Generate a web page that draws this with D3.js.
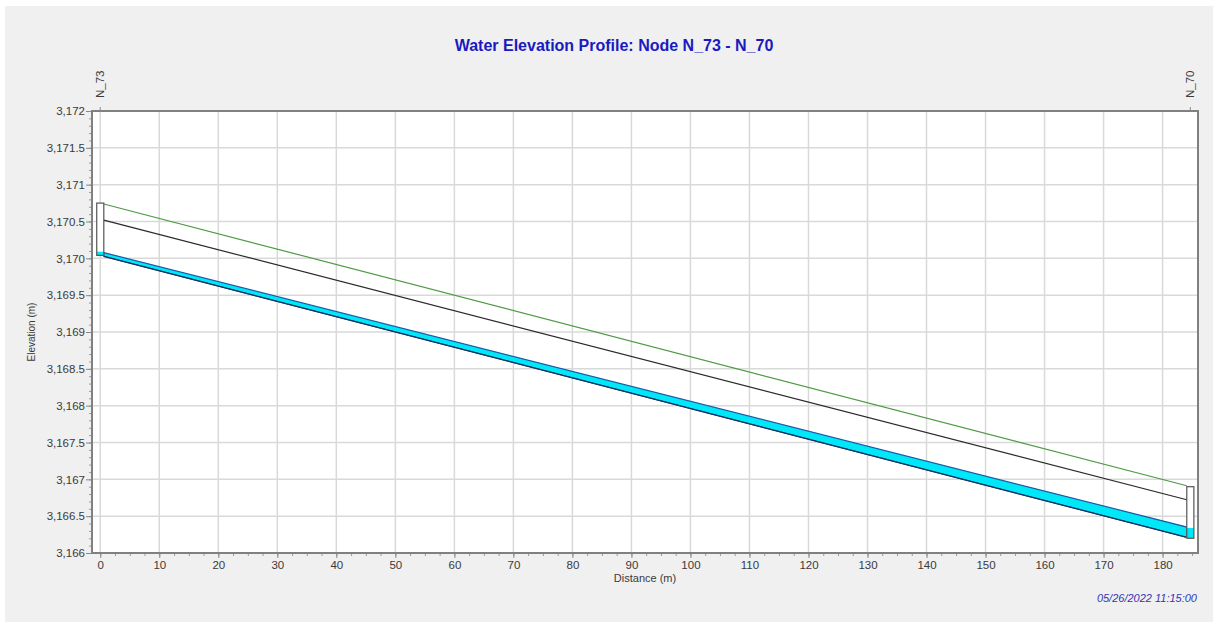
<!DOCTYPE html>
<html lang="en">
<head>
  <meta charset="UTF-8">
  <title>Water Elevation Profile</title>
  <script src="https://d3js.org/d3.v7.min.js"></script>
  <style>
    body { margin: 0; background: #fff; }
    svg text { font-family: "Liberation Sans", Arial, sans-serif; }
  </style>
</head>
<body>
<div id="chart"></div>
<script>
  // node data
  const nodeNames = ["N_73", "N_70"];
  const nodeDist = [0, 184.7];          // m
  const rimElev = [3170.75, 3166.90];   // ground / max depth
  const crownElev = [3170.53, 3166.71]; // top of conduit
  const waterElev = [3170.09, 3166.34]; // water surface
  const invertElev = [3170.04, 3166.20];// conduit invert

  const xTickVals = d3.range(0, 181, 10);
  const yTickVals = d3.range(3166, 3172.001, 0.5);

  const width = 1219, height = 628;
  const margin = {left: 92, right: 21, top: 111, bottom: 75};
  const nodeHalf = 0.6; // half width of node box in m

  const svg = d3.select("#chart").append("svg")
    .attr("width", width).attr("height", height);

  // grey panel
  svg.append("rect").attr("x", 5).attr("y", 6)
    .attr("width", 1208).attr("height", 616).attr("fill", "#f0f0f0");

  const x = d3.scaleLinear().domain([-1.4, 186]).range([margin.left, width - margin.right]);
  const y = d3.scaleLinear().domain([3166, 3172]).range([height - margin.bottom, margin.top]);

  // plot background
  svg.append("rect")
    .attr("x", x.range()[0]).attr("y", y.range()[1])
    .attr("width", x.range()[1] - x.range()[0])
    .attr("height", y.range()[0] - y.range()[1])
    .attr("fill", "#fff");

  // grid
  svg.append("g").selectAll("line").data(xTickVals).join("line")
    .attr("x1", d => x(d)).attr("x2", d => x(d))
    .attr("y1", y.range()[1]).attr("y2", y.range()[0])
    .attr("stroke", "#d9d9d9").attr("stroke-width", 1.5);
  svg.append("g").selectAll("line").data(yTickVals).join("line")
    .attr("x1", x.range()[0]).attr("x2", x.range()[1])
    .attr("y1", d => y(d)).attr("y2", d => y(d))
    .attr("stroke", "#d9d9d9").attr("stroke-width", 1.5);

  // conduit between node box edges
  const cx0 = nodeDist[0] + nodeHalf, cx1 = nodeDist[1] - nodeHalf;
  const along = (arr, d) => arr[0] + (arr[1] - arr[0]) * (d - nodeDist[0]) / (nodeDist[1] - nodeDist[0]);

  // water body
  svg.append("path")
    .attr("d", d3.line()([
      [x(cx0), y(along(waterElev, cx0))], [x(cx1), y(along(waterElev, cx1))],
      [x(cx1), y(along(invertElev, cx1))], [x(cx0), y(along(invertElev, cx0))]
    ]) + "Z")
    .attr("fill", "#00e8f8").attr("stroke", "#1a5aa8").attr("stroke-width", 1.2);

  // invert line
  svg.append("line")
    .attr("x1", x(cx0)).attr("y1", y(along(invertElev, cx0)))
    .attr("x2", x(cx1)).attr("y2", y(along(invertElev, cx1)))
    .attr("stroke", "#15305a").attr("stroke-width", 1.2);

  // crown line
  svg.append("line")
    .attr("x1", x(cx0)).attr("y1", y(along(crownElev, cx0)))
    .attr("x2", x(cx1)).attr("y2", y(along(crownElev, cx1)))
    .attr("stroke", "#2a2a2a").attr("stroke-width", 1.2);

  // ground line
  svg.append("line")
    .attr("x1", x(cx0)).attr("y1", y(along(rimElev, cx0)))
    .attr("x2", x(cx1)).attr("y2", y(along(rimElev, cx1)))
    .attr("stroke", "#4f9a45").attr("stroke-width", 1.2);

  // node boxes
  nodeDist.forEach((d, i) => {
    const g = svg.append("g");
    g.append("rect")
      .attr("x", x(d - nodeHalf)).attr("y", y(rimElev[i]))
      .attr("width", x(d + nodeHalf) - x(d - nodeHalf))
      .attr("height", y(invertElev[i]) - y(rimElev[i]))
      .attr("fill", "#fff");
    g.append("rect")
      .attr("x", x(d - nodeHalf)).attr("y", y(waterElev[i]))
      .attr("width", x(d + nodeHalf) - x(d - nodeHalf))
      .attr("height", y(invertElev[i]) - y(waterElev[i]))
      .attr("fill", "#00e8f8");
    g.append("rect")
      .attr("x", x(d - nodeHalf)).attr("y", y(rimElev[i]))
      .attr("width", x(d + nodeHalf) - x(d - nodeHalf))
      .attr("height", y(invertElev[i]) - y(rimElev[i]))
      .attr("fill", "none").attr("stroke", "#555").attr("stroke-width", 1.2);
  });

  // minor ticks
  const xMinor = svg.append("g")
    .attr("transform", `translate(0,${y.range()[0]})`)
    .call(d3.axisBottom(x).tickValues(d3.range(0, 186, 2.5)).tickSize(3).tickFormat(""));
  const yMinor = svg.append("g")
    .attr("transform", `translate(${x.range()[0]},0)`)
    .call(d3.axisLeft(y).tickValues(d3.range(3166, 3172.001, 0.1)).tickSize(3).tickFormat(""));
  [xMinor, yMinor].forEach(g => {
    g.select(".domain").remove();
    g.selectAll("line").attr("stroke", "#999");
  });

  // major axes
  const xAxis = svg.append("g")
    .attr("transform", `translate(0,${y.range()[0]})`)
    .call(d3.axisBottom(x).tickValues(xTickVals).tickSizeInner(5).tickSizeOuter(0).tickPadding(3));
  const yAxis = svg.append("g")
    .attr("transform", `translate(${x.range()[0]},0)`)
    .call(d3.axisLeft(y).tickValues(yTickVals).tickFormat(d3.format(",")).tickSizeInner(6).tickSizeOuter(0).tickPadding(1));
  [xAxis, yAxis].forEach(g => {
    g.select(".domain").remove();
    g.selectAll("line").attr("stroke", "#888");
    g.selectAll("text").attr("fill", "#3a3a3a").style("font-size", "11.5px");
  });

  // frame
  svg.append("rect")
    .attr("x", x.range()[0]).attr("y", y.range()[1])
    .attr("width", x.range()[1] - x.range()[0])
    .attr("height", y.range()[0] - y.range()[1])
    .attr("fill", "none").attr("stroke", "#808080").attr("stroke-width", 2);

  // node labels on top
  nodeDist.forEach((d, i) => {
    svg.append("line")
      .attr("x1", x(d)).attr("x2", x(d))
      .attr("y1", y.range()[1] - 4).attr("y2", y.range()[1])
      .attr("stroke", "#888");
    svg.append("text")
      .attr("transform", `translate(${x(d) + 4},${y.range()[1] - 13}) rotate(-90)`)
      .attr("fill", "#3a3a3a").style("font-size", "11.5px")
      .text(nodeNames[i]);
  });

  // title
  svg.append("text")
    .attr("x", 614).attr("y", 51).attr("text-anchor", "middle")
    .attr("fill", "#1a1ac0").style("font-size", "16px").style("font-weight", "bold")
    .text("Water Elevation Profile: Node N_73 - N_70");

  // axis titles
  svg.append("text")
    .attr("x", (x.range()[0] + x.range()[1]) / 2).attr("y", 582)
    .attr("text-anchor", "middle").attr("fill", "#3a3a3a").style("font-size", "11px")
    .text("Distance (m)");
  svg.append("text")
    .attr("transform", `translate(35,${(y.range()[0] + y.range()[1]) / 2}) rotate(-90)`)
    .attr("text-anchor", "middle").attr("fill", "#3a3a3a").style("font-size", "10px")
    .text("Elevation (m)");

  // timestamp
  svg.append("text")
    .attr("x", 1197).attr("y", 602).attr("text-anchor", "end")
    .attr("fill", "#3535b5").style("font-size", "11px").style("font-style", "italic")
    .text("05/26/2022 11:15:00");
</script>
</body>
</html>
